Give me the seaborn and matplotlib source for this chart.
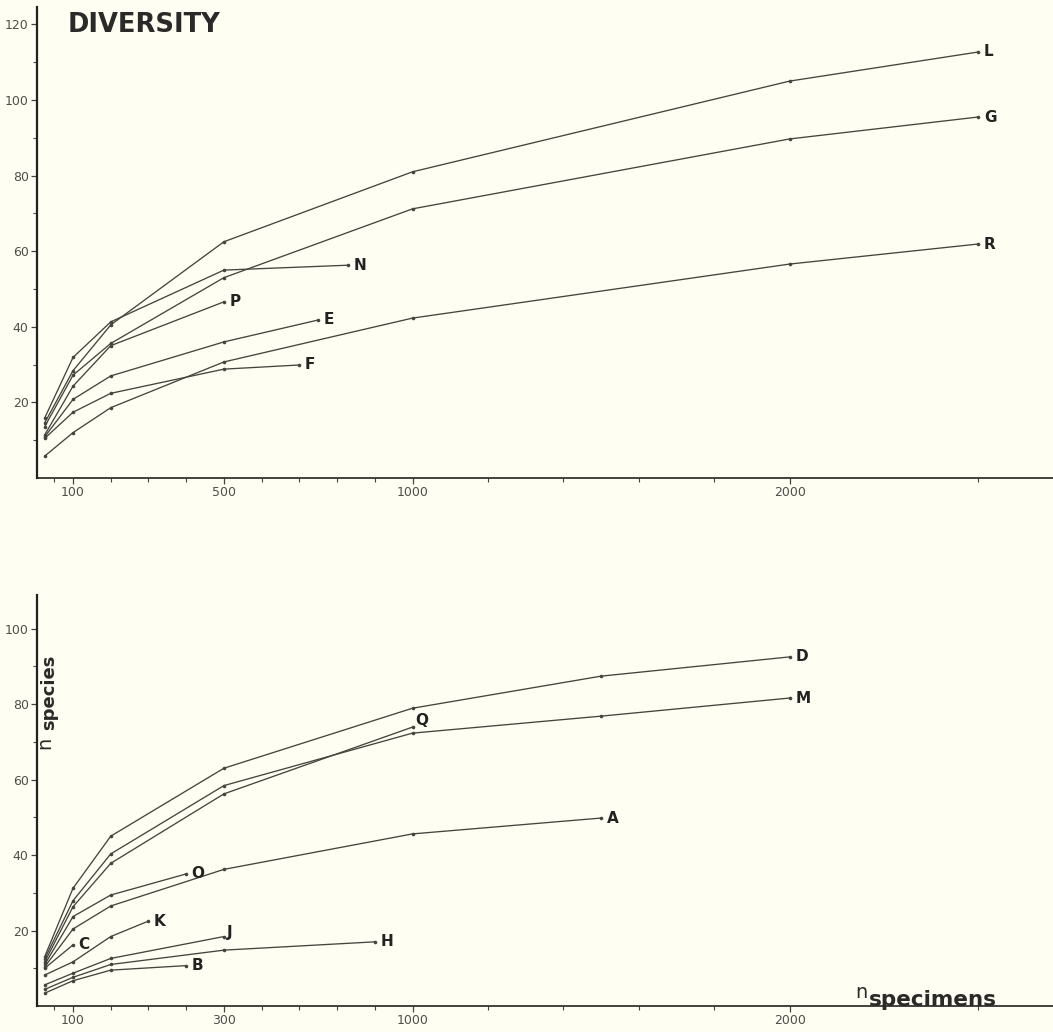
import numpy as np
import pandas as pd
import matplotlib
matplotlib.use("Agg")
import matplotlib.pyplot as plt
import seaborn as sns

# --- DATA (n specimens vs n species)
top_names = ["L", "G", "R", "N", "P", "E", "F"]
top_x = {
    "L": [25, 100, 200, 500, 1000, 2000, 2500],
    "G": [25, 100, 200, 500, 1000, 2000, 2500],
    "R": [25, 100, 200, 500, 1000, 2000, 2500],
    "N": [25, 100, 200, 500, 830],
    "P": [25, 100, 200, 500],
    "E": [25, 100, 200, 500, 750],
    "F": [25, 100, 200, 500, 700],
}
top_y = {
    "L": [14.6, 28.4, 40.5, 62.5, 81.0, 105.0, 112.7],
    "G": [13.6, 27.2, 35.6, 53.0, 71.2, 89.7, 95.5],
    "R": [5.8, 12.0, 18.6, 30.7, 42.3, 56.6, 61.9],
    "N": [15.9, 31.9, 41.3, 55.0, 56.3],
    "P": [11.4, 24.3, 35.0, 46.6],
    "E": [10.9, 20.8, 27.0, 36.0, 41.8],
    "F": [10.5, 17.4, 22.4, 28.8, 29.9],
}

bot_names = ["D", "M", "Q", "A", "O", "K", "C", "J", "H", "B"]
bot_x = {
    "D": [25, 100, 200, 500, 1000, 1500, 2000],
    "M": [25, 100, 200, 500, 1000, 1500, 2000],
    "Q": [25, 100, 200, 500, 1000],
    "A": [25, 100, 200, 500, 1000, 1500],
    "O": [25, 100, 200, 400],
    "K": [25, 100, 200, 300],
    "C": [25, 100],
    "J": [25, 100, 200, 500],
    "H": [25, 100, 200, 500, 900],
    "B": [25, 100, 200, 400],
}
bot_y = {
    "D": [13.1, 31.2, 45.0, 63.0, 78.9, 87.4, 92.5],
    "M": [12.5, 27.9, 40.3, 58.4, 72.3, 76.8, 81.6],
    "Q": [11.7, 26.3, 37.8, 56.2, 73.9],
    "A": [10.4, 20.4, 26.5, 36.2, 45.6, 49.8],
    "O": [11.0, 23.7, 29.4, 35.0],
    "K": [8.2, 11.7, 18.4, 22.5],
    "C": [10.0, 16.2],
    "J": [5.6, 8.7, 12.6, 18.4],
    "H": [4.4, 7.6, 11.0, 14.8, 17.0],
    "B": [3.4, 6.7, 9.5, 10.7],
}

x_major = [100, 500, 1000, 2000]
x_labels_top = ["100", "500", "1000", "2000"]
x_labels_bot = ["100", "300", "1000", "2000"]
x_minor = [50, 200, 300, 400, 600, 700, 800, 900, 1200, 1400, 1600, 1800, 2500]

BG = "#fffef3"
INK = "#45453f"

sns.set_style("ticks")
plt.rcParams["font.family"] = ["DejaVu Sans"]

fig = plt.figure(figsize=(10.53, 10.32), dpi=100)
fig.patch.set_facecolor(BG)

W, H = 1053, 1032
ax_top = fig.add_axes([37 / W, 1 - 478 / H, 1016 / W, (478 - 7) / H])
ax_bot = fig.add_axes([37 / W, 1 - 1006 / H, 1016 / W, (1006 - 595) / H])


def draw_panel(ax, names, xs, ys, ytop, xlabels, label_offsets):
    for name in names:
        df = pd.DataFrame({"n": xs[name], "s": ys[name]})
        sns.lineplot(data=df, x="n", y="s", ax=ax, color=INK, lw=0.95,
                     marker="o", markersize=2.6, markeredgewidth=0,
                     sort=False, estimator=None, legend=False)
        dx, dy = label_offsets.get(name, (4, 0))
        ax.annotate(name, (xs[name][-1], ys[name][-1]), xytext=(dx, dy),
                    textcoords="offset points", ha="left", va="center",
                    fontsize=11, fontweight="bold", color="#222220")

    ax.set_facecolor(BG)
    ax.set_xlim(4.5, 2698)
    ax.set_ylim(0, ytop)
    ax.set_xticks(x_major)
    ax.set_xticklabels(xlabels)
    ax.set_xticks(x_minor, minor=True)
    yt = np.arange(20, ytop, 20)
    ax.set_yticks(yt)
    ax.set_yticklabels([str(int(v)) for v in yt])
    ax.set_yticks(np.arange(10, ytop, 20), minor=True)
    ax.tick_params(axis="both", which="major", length=4, width=0.9,
                   labelsize=9, colors=INK, labelcolor="#4f4f4a", pad=2)
    ax.tick_params(axis="both", which="minor", length=3, width=0.8, colors=INK)
    ax.set_xlabel("")
    ax.set_ylabel("")
    for side in ["top", "right"]:
        ax.spines[side].set_visible(False)
    ax.spines["left"].set_linewidth(1.6)
    ax.spines["bottom"].set_linewidth(1.2)
    ax.spines["left"].set_color("#222220")
    ax.spines["bottom"].set_color("#222220")


draw_panel(ax_top, top_names, top_x, top_y, 124.6, x_labels_top, {})
draw_panel(ax_bot, bot_names, bot_x, bot_y, 108.9, x_labels_bot,
           {"Q": (2, 5), "J": (2, 3)})

# title and axis labels
fig.text(68 / W, 1 - 32 / H, "DIVERSITY", fontsize=18.5, fontweight="bold",
         color="#2a2a28", ha="left", va="baseline")
fig.text(45 / W, 1 - 743 / H, "n", fontsize=14, color="#2a2a28",
         rotation=90, ha="center", va="center")
fig.text(49 / W, 1 - 692 / H, "species", fontsize=13, fontweight="bold",
         color="#2a2a28", rotation=90, ha="center", va="center")
fig.text(861 / W, 1 - 992 / H, "n", fontsize=14, color="#2a2a28",
         ha="center", va="center")
fig.text(869 / W, 1 - 1000 / H, "specimens", fontsize=15.5, fontweight="bold",
         color="#2a2a28", ha="left", va="center")

fig.savefig("out.png", dpi=100, facecolor=BG)
